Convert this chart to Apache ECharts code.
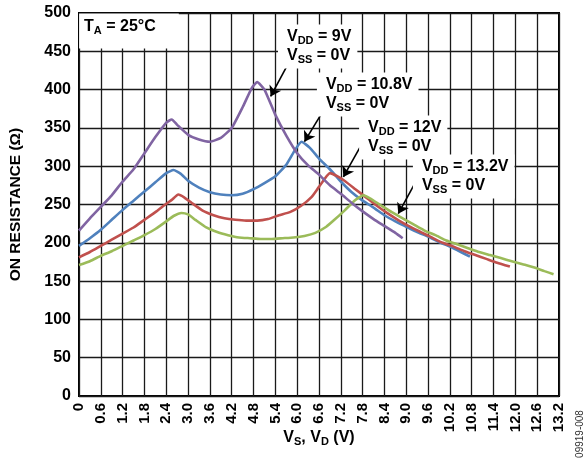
<!DOCTYPE html>
<html><head><meta charset="utf-8">
<script src="https://cdn.jsdelivr.net/npm/echarts@6/dist/echarts.min.js"></script>
<style>html,body{margin:0;padding:0;background:#fff}#c{width:585px;height:459px}</style>
</head><body><div id="c"></div>
<script>
// ---- data ----
const xTickLabels = ['0','0.6','1.2','1.8','2.4','3.0','3.6','4.2','4.8','5.4','6.0','6.6','7.2','7.8','8.4','9.0','9.6','10.2','10.8','11.4','12.0','12.6','13.2'];
const yTickLabels = ['0','50','100','150','200','250','300','350','400','450','500'];

const vdd9X = [0,0.3,0.6,0.9,1.2,1.5,1.8,2.1,2.4,2.55,2.7,3.0,3.3,3.6,3.9,4.2,4.5,4.75,4.9,5.1,5.4,5.7,6.0,6.3,6.6,6.9,7.2,7.5,7.8,8.1,8.4,8.7,8.9];
const vdd9R = [216,232,247,262,280,296,317,338,357,361,354,341,335,332,337,350,377,402,410,400,367,340,317,301,289,275,264,252,241,231,222,213,206];

const vdd108X = [0,0.3,0.6,0.9,1.2,1.5,1.8,2.1,2.4,2.6,2.8,3.0,3.3,3.6,3.9,4.2,4.5,4.8,5.1,5.4,5.7,5.95,6.12,6.35,6.6,6.9,7.2,7.5,7.8,8.1,8.4,8.7,9.0,9.3,9.6,9.9,10.2,10.5,10.75];
const vdd108R = [196,206,217,230,243,255,267,279,291,295,290,281,272,266,263,262,264,270,278,287,302,322,332,324,310,296,280,266,255,246,236,228,221,214,208,201,195,188,182];

const vdd12X = [0,0.3,0.6,0.9,1.2,1.5,1.8,2.1,2.4,2.55,2.73,2.9,3.1,3.4,3.7,4.0,4.3,4.6,4.9,5.2,5.5,5.8,6.1,6.4,6.6,6.9,7.1,7.3,7.6,7.9,8.2,8.5,8.8,9.1,9.4,9.7,10.0,10.3,10.6,10.9,11.2,11.5,11.85];
const vdd12R = [181,188,196,204,212,220,230,240,251,256,263,259,252,242,236,232,230,229,229,231,236,240,248,260,273,291,287,281,270,259,248,238,229,221,214,207,200,195,189,184,179,174,169];

const vdd132X = [0,0.3,0.6,0.9,1.2,1.5,1.8,2.1,2.4,2.6,2.82,3.0,3.2,3.5,3.8,4.1,4.4,4.7,5.0,5.3,5.6,5.9,6.2,6.5,6.8,7.0,7.3,7.6,7.82,8.0,8.3,8.6,8.9,9.2,9.5,9.8,10.1,10.4,10.7,11.0,11.3,11.6,11.9,12.2,12.5,12.8,13.05];
const vdd132R = [171,176,183,189,196,203,210,218,228,235,239,237,230,220,214,210,207,206,205,205,206,207,209,213,221,229,242,256,262,258,249,240,232,224,216,210,203,198,193,188,184,180,176,172,168,163,159];

// annotation texts, anchor (text left, first line centre) in data units, arrow tail/head in data units
const annTexts = [
  '{m|V}{s|DD}{m| = 9V}\n{m|V}{s|SS}{m| = 0V}',
  '{m|V}{s|DD}{m| = 10.8V}\n{m|V}{s|SS}{m| = 0V}',
  '{m|V}{s|DD}{m| = 12V}\n{m|V}{s|SS}{m| = 0V}',
  '{m|V}{s|DD}{m| = 13.2V}\n{m|V}{s|SS}{m| = 0V}'
];
const annAnchors = [[5.72,468.7],[6.79,406],[7.95,350],[9.43,299]];
const arrowTails = [[5.71,430],[6.70,371],[7.73,325],[9.24,278]];
const arrowHeads = [[5.27,391],[6.20,332],[7.27,286],[8.78,238]];
const tempText = '{m|T}{s|A}{m| = 25°C}';
const tempAnchor = [0.14,481.7];

const colors = {v9:'#8064A2', v108:'#4F81BD', v12:'#C0504D', v132:'#9BBB59'};
const FONT = '"Liberation Sans", Arial, Helvetica, sans-serif';

function zip(xs, ys){ return xs.map((x,i)=>[x, ys[i]]); }

const richStyle = {
  m:{fontSize:16, fontWeight:'bold', fontFamily:FONT, lineHeight:19, fill:'#000', color:'#000'},
  s:{fontSize:11, fontWeight:'bold', fontFamily:FONT, lineHeight:11, verticalAlign:'bottom', fill:'#000', color:'#000'}
};

const chart = echarts.init(document.getElementById('c'), null, {renderer:'canvas'});

function lineSeries(name, data, color){
  return {name, type:'line', data, symbol:'none', showSymbol:false, smooth:0.15,
    lineStyle:{color, width:2.6}, itemStyle:{color}, emphasis:{disabled:true}, z:3};
}

const arrowData = arrowTails.map((t,i)=>[{coord:t, symbol:'none'},{coord:arrowHeads[i], symbol:'arrow'}]);

const s9 = lineSeries('VDD = 9V', zip(vdd9X, vdd9R), colors.v9);
s9.markLine = {silent:true, animation:false, symbolSize:10, label:{show:false},
  lineStyle:{color:'#000', width:1.6, type:'solid'}, emphasis:{disabled:true}, data:arrowData};

const option = {
  animation:false,
  backgroundColor:'#fff',
  grid:{left:79, right:26, top:13, bottom:63, show:true, borderColor:'#000', borderWidth:2,
    backgroundColor:'transparent', containLabel:false, outerBoundsMode:'none'},
  xAxis:{type:'value', min:0, max:13.2, interval:0.6,
    axisLine:{show:false}, axisTick:{show:false},
    splitLine:{show:true, lineStyle:{color:'#1a1a1a', width:1.3}},
    axisLabel:{rotate:90, margin:7, fontSize:15, fontWeight:'bold', color:'#000', fontFamily:FONT,
      formatter:(v)=>xTickLabels[Math.round(v/0.6)] || ''},
    name:'{m|V}{s|S}{m|, V}{s|D}{m| (V)}', nameLocation:'middle', nameGap:32, nameMoveOverlap:false,
    nameTextStyle:{fontSize:16, fontWeight:'bold', color:'#000', fontFamily:FONT,
      rich:{m:{fontSize:16, fontWeight:'bold', fontFamily:FONT, color:'#000', lineHeight:19},
            s:{fontSize:11, fontWeight:'bold', fontFamily:FONT, color:'#000', lineHeight:11, verticalAlign:'bottom'}}}
  },
  yAxis:{type:'value', min:0, max:500, interval:50,
    axisLine:{show:false}, axisTick:{show:false},
    splitLine:{show:true, lineStyle:{color:'#1a1a1a', width:1.3}},
    axisLabel:{margin:8, fontSize:16, fontWeight:'bold', color:'#000', fontFamily:FONT,
      formatter:(v)=>yTickLabels[Math.round(v/50)] || ''},
    name:'ON RESISTANCE (Ω)', nameLocation:'middle', nameGap:55, nameMoveOverlap:false,
    nameTextStyle:{fontSize:15.5, fontWeight:'bold', color:'#000', fontFamily:FONT}
  },
  series:[
    lineSeries('VDD = 10.8V', zip(vdd108X, vdd108R), colors.v108),
    lineSeries('VDD = 12V', zip(vdd12X, vdd12R), colors.v12),
    lineSeries('VDD = 13.2V', zip(vdd132X, vdd132R), colors.v132),
    s9
  ]
};
chart.setOption(option);

function px(p){ return chart.convertToPixel({gridIndex:0}, p); }
const pad = [3,6,3,9];
const graphics = annTexts.map((t,i)=>{
  const p = px(annAnchors[i]);
  return {type:'text', z:50, x:p[0]-pad[3], y:p[1]-9.5-pad[0],
    style:{text:t, rich:richStyle, align:'left', verticalAlign:'top', backgroundColor:'#fff', padding:pad,
      fill:'#000', fontSize:16, fontWeight:'bold', fontFamily:FONT}};
});
const tp = px(tempAnchor);
const tpad = [4,23,12,5];
graphics.push({type:'text', z:50, x:tp[0]-tpad[3], y:tp[1]-9.5-tpad[0],
  style:{text:tempText, rich:richStyle, align:'left', verticalAlign:'top', backgroundColor:'#fff', padding:tpad,
    fill:'#000', fontSize:16, fontWeight:'bold', fontFamily:FONT}});
graphics.push({type:'text', z:50, x:580, y:434, rotation:Math.PI/2,
  style:{text:'09919-008', fontSize:10, fontFamily:FONT, fill:'#333', align:'center', verticalAlign:'middle'}});
chart.setOption({graphic:graphics});
</script>
</body></html>
